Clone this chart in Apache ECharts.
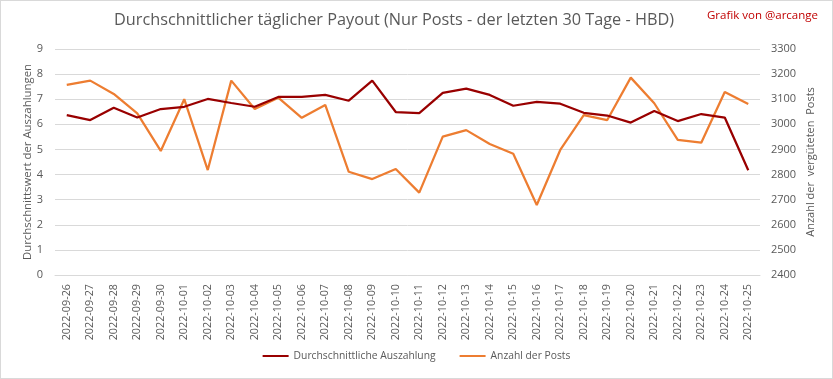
<!DOCTYPE html>
<html><head><meta charset="utf-8">
<script src="https://cdn.jsdelivr.net/npm/echarts@6/dist/echarts.min.js"></script>
<style>html,body{margin:0;padding:0;background:#fff}#c{width:831px;height:377px;border:1px solid #d9d9d9}</style>
</head><body><div id="c"></div>
<script>
const categories = ["2022-09-26","2022-09-27","2022-09-28","2022-09-29","2022-09-30","2022-10-01","2022-10-02","2022-10-03","2022-10-04","2022-10-05","2022-10-06","2022-10-07","2022-10-08","2022-10-09","2022-10-10","2022-10-11","2022-10-12","2022-10-13","2022-10-14","2022-10-15","2022-10-16","2022-10-17","2022-10-18","2022-10-19","2022-10-20","2022-10-21","2022-10-22","2022-10-23","2022-10-24","2022-10-25"];
const payout = [6.37,6.17,6.66,6.27,6.61,6.70,7.01,6.85,6.70,7.09,7.09,7.17,6.94,7.74,6.49,6.45,7.25,7.42,7.17,6.74,6.89,6.82,6.46,6.35,6.07,6.53,6.13,6.41,6.27,4.17];
const posts = [3157,3174,3121,3044,2894,3100,2818,3174,3061,3106,3026,3077,2811,2782,2822,2728,2951,2977,2922,2883,2679,2898,3037,3017,3186,3084,2938,2927,3129,3081];
const leftTicks = [0,9,1];
const rightTicks = [2400,3300,100];
const F = "'Open Sans', sans-serif";
const chart = echarts.init(document.getElementById('c'));
chart.setOption({
  animation:false,
  graphic:[
    {type:'text',left:113,top:11,style:{text:"Durchschnittlicher täglicher Payout (Nur Posts - der letzten 30 Tage - HBD)",fontFamily:F,fontSize:16.3,fill:'#595959'}},
    {type:'text',left:706,top:9,style:{text:"Grafik von @arcange",fontFamily:F,fontSize:11.5,fill:'#c00000'}}
  ],
  grid:{left:54,right:72,top:48,bottom:103,containLabel:false},
  legend:{bottom:12,left:'center',itemWidth:26,itemHeight:2,itemGap:24,icon:'rect',textStyle:{fontFamily:F,fontSize:10.3,color:'#595959'},data:["Durchschnittliche Auszahlung","Anzahl der Posts"]},
  xAxis:{type:'category',data:categories,boundaryGap:true,axisLine:{lineStyle:{color:'#d9d9d9'}},axisTick:{show:false},
    axisLabel:{rotate:90,interval:0,fontFamily:F,fontSize:10.8,color:'#595959',margin:9}},
  yAxis:[{type:'value',min:leftTicks[0],max:leftTicks[1],interval:leftTicks[2],name:"Durchschnittswert der Auszahlungen",nameLocation:'middle',nameGap:22,nameMoveOverlap:false,
      nameTextStyle:{fontFamily:F,fontSize:11.4,color:'#595959'},axisLabel:{fontFamily:F,fontSize:11,color:'#595959',margin:12},splitLine:{lineStyle:{color:'#d9d9d9'}},axisLine:{show:false},axisTick:{show:false}},
    {type:'value',min:rightTicks[0],max:rightTicks[1],interval:rightTicks[2],name:"Anzahl der  vergüteten  Posts",nameLocation:'middle',nameGap:45,nameRotate:90,nameMoveOverlap:false,
      nameTextStyle:{fontFamily:F,fontSize:11,color:'#595959'},axisLabel:{fontFamily:F,fontSize:11,color:'#595959',margin:11,formatter:v=>String(v)},splitLine:{show:false},axisLine:{show:false},axisTick:{show:false}}],
  series:[{name:"Durchschnittliche Auszahlung",type:'line',data:payout,yAxisIndex:0,symbol:'none',lineStyle:{color:'#990000',width:2.25},itemStyle:{color:'#990000'},z:3},
          {name:"Anzahl der Posts",type:'line',data:posts,yAxisIndex:1,symbol:'none',lineStyle:{color:'#ed7d31',width:2.25},itemStyle:{color:'#ed7d31'},z:2}]
});
</script></body></html>
